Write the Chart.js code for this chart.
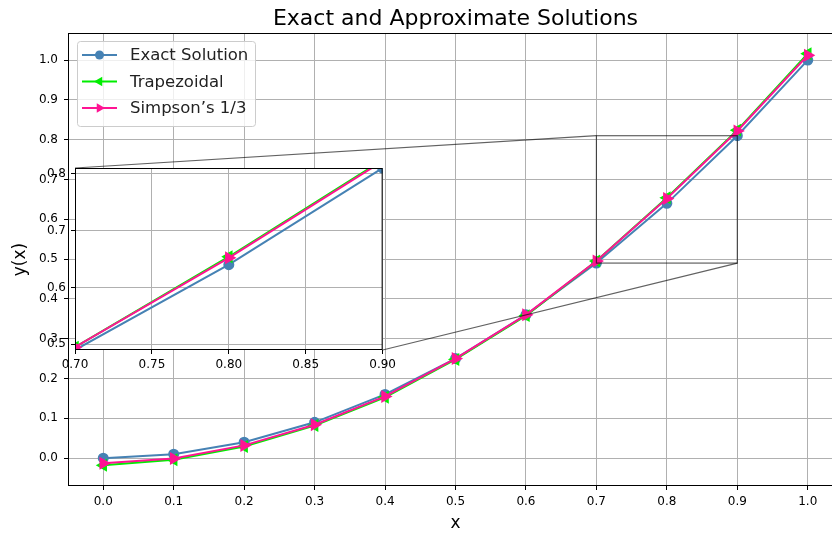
<!DOCTYPE html>
<html>
<head>
<meta charset="utf-8">
<script src="https://cdn.jsdelivr.net/npm/chart.js@4"></script>
<style>
  html, body { margin: 0; padding: 0; background: #fff; overflow: hidden; }
  #wrap { position: relative; width: 832px; height: 534px; overflow: hidden; }
  #main { position: absolute; left: 0; top: 0; }
  #inset { position: absolute; left: 0; top: 140px; }
</style>
</head>
<body>
<div id="wrap">
  <!-- the original figure is cut on the right, so the main canvas is a bit wider than the page -->
  <canvas id="main" width="864" height="534"></canvas>
  <canvas id="inset" width="400" height="240"></canvas>
</div>
<script>
// data
const xValues = [0.0, 0.1, 0.2, 0.3, 0.4, 0.5, 0.6, 0.7, 0.8, 0.9, 1.0];
const exactValues = [0.0, 0.01, 0.04, 0.09, 0.16, 0.25, 0.36, 0.49, 0.64, 0.81, 1.0];
const trapValues = [-0.018, -0.004, 0.029, 0.082, 0.153, 0.248, 0.358, 0.495, 0.654, 0.824, 1.016];
const simpValues = [-0.013, -0.001, 0.032, 0.084, 0.155, 0.250, 0.360, 0.495, 0.652, 0.822, 1.012];

const xTicks = [0.0, 0.1, 0.2, 0.3, 0.4, 0.5, 0.6, 0.7, 0.8, 0.9, 1.0];
const yTicks = [0.0, 0.1, 0.2, 0.3, 0.4, 0.5, 0.6, 0.7, 0.8, 0.9, 1.0];
const insetXTicks = [0.70, 0.75, 0.80, 0.85, 0.90];
const insetYTicks = [0.5, 0.6, 0.7, 0.8];
// zoomed region
const zoomX = [0.7, 0.9];
const zoomY = [0.49, 0.81];
const xRange = [-0.05, 1.05];
const yRange = [-0.070, 1.068];

const FONT = 'DejaVu Sans';
const BLUE = '#4682b4';
const GREEN = '#00ee00';
const PINK = '#ff1493';

function pts(ys) {
  return xValues.map((x, i) => ({ x: x, y: ys[i] }));
}

function makeDatasets(clip) {
  return [
    { label: 'Exact Solution', data: pts(exactValues), borderColor: BLUE, backgroundColor: BLUE,
      pointStyle: 'circle', pointRadius: 4.5, borderWidth: 2, order: 3, clip: clip },
    { label: 'Trapezoidal', data: pts(trapValues), borderColor: GREEN, backgroundColor: GREEN,
      pointStyle: 'triangle', rotation: 270, pointRadius: 5.5, borderWidth: 2, order: 2, clip: clip },
    { label: "Simpson\u2019s 1/3", data: pts(simpValues), borderColor: PINK, backgroundColor: PINK,
      pointStyle: 'triangle', rotation: 90, pointRadius: 5.5, borderWidth: 2, order: 1, clip: clip }
  ];
}

function fixedTicks(list) {
  return function (scale) {
    scale.ticks = list.map(v => ({ value: v }));
  };
}

function frame(chart) {
  const a = chart.chartArea;
  const ctx = chart.ctx;
  ctx.save();
  ctx.strokeStyle = '#000';
  ctx.lineWidth = 1;
  ctx.strokeRect(a.left + 0.5, a.top + 0.5, a.right - a.left - 1, a.bottom - a.top - 1);
  ctx.restore();
}

// ---------- inset ----------
const insetPlugin = {
  id: 'insetBox',
  beforeDraw(chart) {
    const a = chart.chartArea;
    const ctx = chart.ctx;
    ctx.save();
    ctx.fillStyle = '#fff';
    ctx.fillRect(a.left, a.top, a.right - a.left, a.bottom - a.top);
    ctx.restore();
  },
  afterDraw: frame
};

const insetChart = new Chart(document.getElementById('inset'), {
  type: 'line',
  data: { datasets: makeDatasets(0) },
  options: {
    responsive: false,
    animation: false,
    layout: { padding: { top: 28, right: 16, left: 0, bottom: 0 } },
    plugins: { legend: { display: false }, tooltip: { enabled: false } },
    scales: {
      x: {
        type: 'linear', min: zoomX[0], max: zoomX[1],
        afterBuildTicks: fixedTicks(insetXTicks),
        afterFit(scale) { scale.height = 30; },
        grid: { color: '#b0b0b0', lineWidth: 1, tickLength: 4, tickColor: '#000' },
        border: { display: false },
        ticks: { color: '#000', font: { family: FONT, size: 12 }, padding: 4, maxRotation: 0,
          callback: v => v.toFixed(2) }
      },
      y: {
        type: 'linear', min: zoomY[0], max: zoomY[1],
        afterBuildTicks: fixedTicks(insetYTicks),
        afterFit(scale) { scale.width = 75; },
        grid: { color: '#b0b0b0', lineWidth: 1, tickLength: 4, tickColor: '#000' },
        border: { display: false },
        ticks: { color: '#000', font: { family: FONT, size: 12 }, padding: 5,
          callback: v => v.toFixed(1) }
      }
    }
  },
  plugins: [insetPlugin]
});

// ---------- main ----------
const insetOffset = { x: 0, y: 140 };

const decorPlugin = {
  id: 'decor',
  afterDraw(chart) {
    const ctx = chart.ctx;
    const a = chart.chartArea;
    const xs = chart.scales.x;
    const ys = chart.scales.y;
    frame(chart);
    ctx.save();

    // zoom rectangle + connectors
    const rx1 = xs.getPixelForValue(zoomX[0]), rx2 = xs.getPixelForValue(zoomX[1]);
    const ry1 = ys.getPixelForValue(zoomY[1]), ry2 = ys.getPixelForValue(zoomY[0]);
    const ia = insetChart.chartArea;
    ctx.strokeStyle = 'rgba(0,0,0,0.62)';
    ctx.lineWidth = 1.2;
    ctx.strokeRect(rx1, ry1, rx2 - rx1, ry2 - ry1);
    ctx.beginPath();
    ctx.moveTo(ia.left + insetOffset.x, ia.top + insetOffset.y);
    ctx.lineTo(rx1, ry1);
    ctx.moveTo(ia.right + insetOffset.x, ia.bottom + insetOffset.y);
    ctx.lineTo(rx2, ry2);
    ctx.stroke();

    // title
    ctx.fillStyle = '#000';
    ctx.font = '22px "' + FONT + '"';
    ctx.textAlign = 'center';
    ctx.textBaseline = 'alphabetic';
    ctx.fillText('Exact and Approximate Solutions', (a.left + a.right) / 2, 25);

    // legend
    const lx = 77, ly = 41, lw = 178, lh = 85;
    ctx.fillStyle = 'rgba(255,255,255,0.8)';
    ctx.strokeStyle = '#cccccc';
    ctx.lineWidth = 1;
    ctx.beginPath();
    ctx.roundRect(lx + 0.5, ly + 0.5, lw, lh, 3);
    ctx.fill();
    ctx.stroke();
    chart.data.datasets.forEach((ds, i) => {
      const yy = 55 + i * 26.5;
      ctx.strokeStyle = ds.borderColor;
      ctx.lineWidth = 2;
      ctx.beginPath();
      ctx.moveTo(82, yy);
      ctx.lineTo(117, yy);
      ctx.stroke();
      ctx.fillStyle = ds.backgroundColor;
      Chart.helpers.drawPoint(ctx, { pointStyle: ds.pointStyle, rotation: ds.rotation || 0,
        radius: ds.pointRadius, borderWidth: 0 }, 99.5, yy);
      ctx.fillStyle = '#222';
      ctx.font = '16.5px "' + FONT + '"';
      ctx.textAlign = 'left';
      ctx.textBaseline = 'middle';
      ctx.fillText(ds.label, 130, yy + 1);
    });
    ctx.restore();
  }
};

new Chart(document.getElementById('main'), {
  type: 'line',
  data: { datasets: makeDatasets(undefined) },
  options: {
    responsive: false,
    animation: false,
    layout: { padding: { top: 33, right: 21, left: 0, bottom: 0 } },
    plugins: { legend: { display: false }, tooltip: { enabled: false } },
    scales: {
      x: {
        type: 'linear', min: xRange[0], max: xRange[1],
        afterBuildTicks: fixedTicks(xTicks),
        afterFit(scale) { scale.height = 48; },
        grid: { color: '#b0b0b0', lineWidth: 1, tickLength: 4, tickColor: '#000' },
        border: { display: false },
        ticks: { color: '#000', font: { family: FONT, size: 12 }, padding: 5, maxRotation: 0,
          callback: v => v.toFixed(1) },
        title: { display: true, text: 'x', color: '#000', font: { family: FONT, size: 17 },
          padding: { top: 0, bottom: 0 } }
      },
      y: {
        type: 'linear', min: yRange[0], max: yRange[1],
        afterBuildTicks: fixedTicks(yTicks),
        afterFit(scale) { scale.width = 68; },
        grid: { color: '#b0b0b0', lineWidth: 1, tickLength: 4, tickColor: '#000' },
        border: { display: false },
        ticks: { color: '#000', font: { family: FONT, size: 12 }, padding: 6,
          callback: v => v.toFixed(1) },
        title: { display: true, text: 'y(x)', color: '#000', font: { family: FONT, size: 17 },
          padding: { top: 10, bottom: 0 } }
      }
    }
  },
  plugins: [decorPlugin]
});
</script>
</body>
</html>
